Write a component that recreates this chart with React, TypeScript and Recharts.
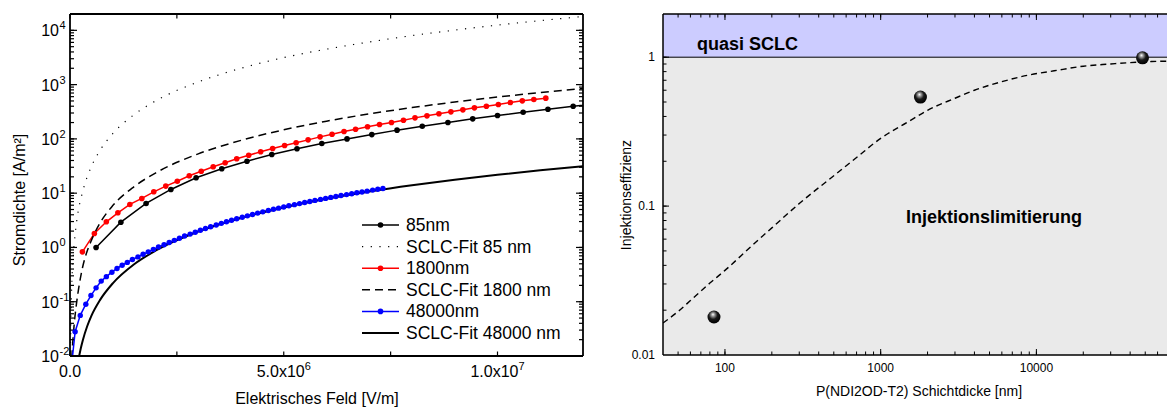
import React from "react";
import {
  ComposedChart,
  CartesianGrid,
  Line,
  Scatter,
  XAxis,
  YAxis,
  Legend,
  ReferenceArea,
  ReferenceLine,
} from "recharts";

const FONT = '"Liberation Sans", Arial, Helvetica, sans-serif';

// ---------- left panel: Stromdichte vs. Feld (x in 10^6 V/m) ----------
const feld85 = [0.61, 1.19, 1.78, 2.36, 2.95, 3.55, 4.14, 4.72, 5.31, 5.89, 6.48, 7.06, 7.65, 8.24, 8.84, 9.42, 10.0, 10.6, 11.18, 11.77, 12.36];
const strom85 = [1.0, 2.92, 6.46, 11.7, 19.2, 28.1, 38.8, 51.6, 65.7, 82.3, 100, 120, 145, 171, 200, 234, 270, 310, 352, 400, 448];

const feld1800 = [0.29, 0.57, 0.85, 1.12, 1.4, 1.68, 1.96, 2.24, 2.51, 2.79, 3.07, 3.35, 3.63, 3.9, 4.18, 4.46, 4.74, 5.02, 5.29, 5.57, 5.85, 6.13, 6.41, 6.68, 6.96, 7.24, 7.52, 7.8, 8.07, 8.35, 8.63, 8.91, 9.19, 9.46, 9.74, 10.02, 10.3, 10.58, 10.85, 11.13];
const strom1800 = [0.83, 1.81, 2.97, 4.35, 6.2, 8.0, 10.6, 13.5, 16.6, 20.9, 25.4, 30.6, 36.3, 43, 50, 57.8, 66.5, 75.5, 84.7, 96, 109, 122, 137, 151, 167, 184, 200, 221, 244, 266, 290, 315, 343, 373, 400, 430, 468, 502, 532, 563];

const feld48000 = [0.03, 0.12, 0.24, 0.37, 0.49, 0.61, 0.73, 0.85, 0.98, 1.1, 1.22, 1.34, 1.46, 1.59, 1.71, 1.83, 1.95, 2.07, 2.2, 2.32, 2.44, 2.56, 2.68, 2.81, 2.93, 3.05, 3.17, 3.29, 3.42, 3.54, 3.66, 3.78, 3.9, 4.03, 4.15, 4.27, 4.39, 4.51, 4.64, 4.76, 4.88, 5.0, 5.12, 5.25, 5.37, 5.49, 5.61, 5.73, 5.86, 5.98, 6.1, 6.22, 6.34, 6.47, 6.59, 6.71, 6.83, 6.95, 7.08, 7.2, 7.32];
const strom48000 = [0.006, 0.028, 0.056, 0.09, 0.13, 0.18, 0.24, 0.29, 0.35, 0.41, 0.47, 0.53, 0.6, 0.67, 0.75, 0.83, 0.92, 1.02, 1.12, 1.23, 1.35, 1.48, 1.62, 1.76, 1.91, 2.07, 2.24, 2.41, 2.59, 2.78, 2.97, 3.17, 3.38, 3.6, 3.82, 4.05, 4.29, 4.53, 4.78, 5.04, 5.3, 5.57, 5.85, 6.14, 6.43, 6.73, 7.04, 7.36, 7.68, 8.01, 8.35, 8.7, 9.05, 9.41, 9.78, 10.2, 10.5, 10.9, 11.4, 11.8, 12.2];

const fit85X = [0.01, 0.02, 0.04, 0.07, 0.1, 0.15, 0.2, 0.3, 0.5, 0.7, 1, 1.5, 2, 3, 4, 5, 6, 7, 8, 9, 10, 11, 12];
const fit85Y = [0.012, 0.048, 0.19, 0.6, 1.2, 2.8, 5, 11, 31, 61, 125, 280, 500, 1120, 2000, 3150, 4500, 6100, 8000, 10100, 12500, 15100, 18000];

const fit1800X = [0.04, 0.06, 0.1, 0.15, 0.2, 0.3, 0.4, 0.5, 0.7, 1, 1.5, 2, 3, 4, 5, 6, 7, 8, 9, 10, 11, 12];
const fit1800Y = [0.009, 0.016, 0.04, 0.09, 0.17, 0.45, 0.85, 1.35, 2.8, 5.9, 13.2, 23.5, 53, 94, 147, 212, 289, 377, 478, 590, 714, 850];

const fit48000X = [0.21, 0.25, 0.3, 0.4, 0.5, 0.7, 1, 1.5, 2, 3, 4, 5, 6, 7, 8, 9, 10, 11, 12];
const fit48000Y = [0.0096, 0.0136, 0.0196, 0.035, 0.055, 0.107, 0.218, 0.49, 0.87, 1.96, 3.49, 5.45, 7.85, 10.7, 14, 17.7, 21.8, 26.4, 31.4];

const xTicksL = [0, 2.5, 5, 7.5, 10];
const xMajorL = [0, 5, 10];
const xLabelL: Record<number, [string, string]> = { 0: ["0.0", ""], 5: ["5.0x10", "6"], 10: ["1.0x10", "7"] };
const yMajorL = [0.01, 0.1, 1, 10, 100, 1000, 10000];
const yExpL = ["-2", "-1", "0", "1", "2", "3", "4"];
const yMinorL = [0.01, 0.1, 1, 10, 100, 1000].flatMap((d) => [2, 3, 4, 5, 6, 7, 8, 9].map((k) => k * d));
const yAllL = [...yMajorL, ...yMinorL];

const legendNames = ["85nm", "SCLC-Fit 85 nm", "1800nm", "SCLC-Fit 1800 nm", "48000nm", "SCLC-Fit 48000 nm"];

// ---------- right panel: Injektionseffizienz vs. Schichtdicke ----------
const dickeNm = [85, 1800, 48000];
const effizienz = [0.018, 0.54, 0.99];

const fitDicke = [40, 50, 60, 80, 100, 150, 200, 300, 500, 700, 1000, 1500, 2000, 3000, 4000, 6000, 9000, 13000, 20000, 30000, 40000, 55000, 70000];
const fitEff = [0.0164, 0.0196, 0.0232, 0.0304, 0.037, 0.0546, 0.0714, 0.104, 0.16, 0.212, 0.285, 0.368, 0.44, 0.53, 0.6, 0.685, 0.76, 0.81, 0.87, 0.9, 0.92, 0.935, 0.94];

const xMajorR = [100, 1000, 10000];
const xMinorR = [50, 60, 70, 80, 90, ...[100, 1000].flatMap((d) => [2, 3, 4, 5, 6, 7, 8, 9].map((k) => k * d)), 20000, 30000, 40000, 50000, 60000];
const xAllR = [...xMajorR, ...xMinorR];
const yMajorR = [0.1, 1];
const yLabelR: Record<string, string> = { "0.1": "0.1", "1": "1" };
const yMinorR = [0.01, 0.1].flatMap((d) => [2, 3, 4, 5, 6, 7, 8, 9].map((k) => k * d));
const yAllR = [...yMajorR, ...yMinorR];

const pairs = (xs: number[], ys: number[]) => xs.map((x, i) => ({ x, y: ys[i] }));
const isOneOf = (list: number[], v: number) => list.some((m) => m === v || Math.abs(m - v) <= 1e-9 * Math.abs(m));

type Side = "left" | "right" | "top" | "bottom";

// labels only (outer axes)
function labelTick(side: Side, majors: number[], label: (v: number, c: number) => React.ReactNode) {
  return (props: any) => {
    const v = Number(props.payload.value);
    const c = side === "top" || side === "bottom" ? props.x : props.y;
    return <g>{isOneOf(majors, v) ? label(v, c) : null}</g>;
  };
}

// inward marks (mirrored axes): recharts draws the short line, majors get a longer one
function markTick(side: Side, edge: number, majors: number[], majorLen: number, sw: number) {
  return (props: any) => {
    const v = Number(props.payload.value);
    const horiz = side === "top" || side === "bottom";
    const c = horiz ? props.x : props.y;
    if (!isOneOf(majors, v)) return <g />;
    const dir = side === "left" || side === "top" ? 1 : -1;
    const d = horiz ? `M${c},${edge}L${c},${edge + dir * majorLen}` : `M${edge},${c}L${edge + dir * majorLen},${c}`;
    return <path d={d} stroke="#000" strokeWidth={sw} fill="none" />;
  };
}

const L = { left: 70, right: 583, top: 14, bottom: 356 };
const R = { left: 63, right: 568, top: 14, bottom: 355 };

const leftYLabel = (v: number, c: number) => {
  const i = yMajorL.indexOf(v);
  return (
    <g fontFamily={FONT} fill="#000">
      <text x={59} y={c + 6} fontSize={16} textAnchor="end">10</text>
      <text x={59.5} y={c - 1} fontSize={11} textAnchor="start">{yExpL[i]}</text>
    </g>
  );
};
const leftXLabel = (v: number, c: number) => {
  const [base, exp] = xLabelL[v];
  return (
    <text x={c} y={377} fontSize={16} fontFamily={FONT} textAnchor="middle" fill="#000">
      {base}
      {exp ? <tspan fontSize={11} dy={-7}>{exp}</tspan> : null}
    </text>
  );
};
const rightXLabel = (v: number, c: number) => (
  <text x={c} y={372} fontSize={12} fontFamily={FONT} textAnchor="middle" fill="#000">{String(v)}</text>
);
const rightYLabel = (v: number, c: number) => (
  <text x={55} y={c + 4} fontSize={12} fontFamily={FONT} textAnchor="end" fill="#000">{yLabelR[String(v)]}</text>
);

function LegendBox() {
  const styles = [
    { stroke: "#000", dash: undefined, dot: "#000", w: 1.5 },
    { stroke: "#000", dash: "1.2 7.5", dot: null, w: 1.2 },
    { stroke: "#ff0000", dash: undefined, dot: "#ff0000", w: 1.5 },
    { stroke: "#000", dash: "8 5", dot: null, w: 1.5 },
    { stroke: "#0000ff", dash: undefined, dot: "#0000ff", w: 1.5 },
    { stroke: "#000", dash: undefined, dot: null, w: 1.8 },
  ];
  return (
    <svg width={240} height={135} style={{ display: "block" }}>
      {legendNames.map((name, i) => {
        const y = 13 + 21.6 * i;
        const s = styles[i];
        return (
          <g key={name}>
            <line x1={7} x2={44} y1={y} y2={y} stroke={s.stroke} strokeWidth={s.w} strokeDasharray={s.dash} />
            {s.dot ? <circle cx={25.5} cy={y} r={2.8} fill={s.dot} /> : null}
            <text x={51} y={y + 6} fontSize={17.5} fontFamily={FONT} fill="#000">{name}</text>
          </g>
        );
      })}
    </svg>
  );
}

const Sphere = (p: any) => {
  const id = `sph${p.index ?? 0}`;
  return (
    <g>
      <defs>
        <radialGradient id={id} cx="45%" cy="38%" r="60%" fx="42%" fy="30%">
          <stop offset="0%" stopColor="#ffffff" />
          <stop offset="22%" stopColor="#9a9a9a" />
          <stop offset="55%" stopColor="#1a1a1a" />
          <stop offset="100%" stopColor="#000000" />
        </radialGradient>
      </defs>
      <circle cx={p.cx} cy={p.cy} r={6.5} fill={`url(#${id})`} />
    </g>
  );
};

function LeftPanel() {
  const axis = { stroke: "#000", strokeWidth: 1.8 };
  const tl = { stroke: "#000", strokeWidth: 1.2 };
  const xd: [number, number] = [0, 12];
  const yd: [number, number] = [0.01, 20000];
  return (
    <ComposedChart width={600} height={407} margin={{ top: 14, right: 17, bottom: 0, left: 10 }}>
      {/* label axes */}
      <XAxis dataKey="x" type="number" domain={xd} allowDataOverflow ticks={xTicksL} interval={0} height={51}
        axisLine={axis} tickLine={false} tick={labelTick("bottom", xMajorL, leftXLabel)} />
      <YAxis dataKey="y" type="number" scale="log" domain={yd} allowDataOverflow ticks={yAllL} interval={0} width={60}
        axisLine={axis} tickLine={false} tick={labelTick("left", yMajorL, leftYLabel)} />
      {/* inward tick marks on all four sides */}
      <XAxis xAxisId="bm" orientation="bottom" mirror dataKey="x" type="number" domain={xd} allowDataOverflow ticks={xTicksL} interval={0} height={10}
        axisLine={false} tickLine={tl} tickSize={4.5} tick={markTick("bottom", L.bottom, [], 0, 1.2)} />
      <XAxis xAxisId="tm" orientation="top" mirror dataKey="x" type="number" domain={xd} allowDataOverflow ticks={xTicksL} interval={0} height={10}
        axisLine={axis} tickLine={tl} tickSize={4.5} tick={markTick("top", L.top, [], 0, 1.2)} />
      <YAxis yAxisId="lm" orientation="left" mirror dataKey="y" type="number" scale="log" domain={yd} allowDataOverflow ticks={yAllL} interval={0} width={10}
        axisLine={false} tickLine={tl} tickSize={4} tick={markTick("left", L.left, yMajorL, 7, 1.2)} />
      <YAxis yAxisId="rm" orientation="right" mirror dataKey="y" type="number" scale="log" domain={yd} allowDataOverflow ticks={yAllL} interval={0} width={10}
        axisLine={axis} tickLine={tl} tickSize={4} tick={markTick("right", L.right, yMajorL, 7, 1.2)} />
      <Legend layout="vertical" align="center" verticalAlign="middle" content={() => <LegendBox />}
        wrapperStyle={{ left: 355, top: 212, width: 240, height: 135 }} />
      <Line data={pairs(feld85, strom85)} dataKey="y" type="linear" stroke="#000" strokeWidth={1.5}
        dot={{ r: 2.8, fill: "#000", stroke: "#000", strokeWidth: 0 }} isAnimationActive={false} />
      <Line data={pairs(fit85X, fit85Y)} dataKey="y" type="monotone" stroke="#000" strokeWidth={1.2} strokeDasharray="1.2 7.5"
        dot={false} isAnimationActive={false} />
      <Line data={pairs(feld1800, strom1800)} dataKey="y" type="linear" stroke="#ff0000" strokeWidth={1.5}
        dot={{ r: 2.8, fill: "#ff0000", stroke: "#ff0000", strokeWidth: 0 }} isAnimationActive={false} />
      <Line data={pairs(fit1800X, fit1800Y)} dataKey="y" type="monotone" stroke="#000" strokeWidth={1.5} strokeDasharray="8 5"
        dot={false} isAnimationActive={false} />
      <Line data={pairs(feld48000, strom48000)} dataKey="y" type="linear" stroke="#0000ff" strokeWidth={1.5}
        dot={{ r: 2.7, fill: "#0000ff", stroke: "#0000ff", strokeWidth: 0 }} isAnimationActive={false} />
      <Line data={pairs(fit48000X, fit48000Y)} dataKey="y" type="monotone" stroke="#000" strokeWidth={2}
        dot={false} isAnimationActive={false} />
    </ComposedChart>
  );
}

function RightPanel() {
  const axis = { stroke: "#000", strokeWidth: 1.5 };
  const tl = { stroke: "#000", strokeWidth: 1 };
  const xd: [number, number] = [40, 70000];
  const yd: [number, number] = [0.01, 1.95];
  return (
    <ComposedChart width={568} height={407} margin={{ top: 14, right: 0, bottom: 0, left: 3 }}>
      <CartesianGrid horizontal={false} vertical={false} fill="#eaeaea" fillOpacity={1} stroke="none" />
      <ReferenceArea y1={1} y2={1.95} fill="#ccccff" fillOpacity={1} stroke="none" />
      <ReferenceLine y={1} stroke="#000" strokeWidth={1} />
      <XAxis dataKey="x" type="number" scale="log" domain={xd} allowDataOverflow ticks={xAllR} interval={0} height={52}
        axisLine={axis} tickLine={false} tick={labelTick("bottom", xMajorR, rightXLabel)} />
      <YAxis dataKey="y" type="number" scale="log" domain={yd} allowDataOverflow ticks={yAllR} interval={0} width={60}
        axisLine={axis} tickLine={false} tick={labelTick("left", yMajorR, rightYLabel)} />
      <XAxis xAxisId="bm" orientation="bottom" mirror dataKey="x" type="number" scale="log" domain={xd} allowDataOverflow ticks={xAllR} interval={0} height={10}
        axisLine={false} tickLine={tl} tickSize={3.5} tick={markTick("bottom", R.bottom, xMajorR, 6, 1)} />
      <XAxis xAxisId="tm" orientation="top" mirror dataKey="x" type="number" scale="log" domain={xd} allowDataOverflow ticks={xAllR} interval={0} height={10}
        axisLine={axis} tickLine={tl} tickSize={3.5} tick={markTick("top", R.top, xMajorR, 6, 1)} />
      <YAxis yAxisId="lm" orientation="left" mirror dataKey="y" type="number" scale="log" domain={yd} allowDataOverflow ticks={yAllR} interval={0} width={10}
        axisLine={false} tickLine={tl} tickSize={3.5} tick={markTick("left", R.left, yMajorR, 6, 1)} />
      <Line data={pairs(fitDicke, fitEff)} dataKey="y" type="monotone" stroke="#000" strokeWidth={1.4} strokeDasharray="6 4"
        dot={false} isAnimationActive={false} />
      <Scatter data={pairs(dickeNm, effizienz)} dataKey="y" shape={Sphere} isAnimationActive={false} />
    </ComposedChart>
  );
}

export default function App() {
  return (
    <div style={{ position: "absolute", left: 0, top: 0, width: 1167, height: 407, overflow: "hidden", background: "#fff", fontFamily: FONT }}>
      <div style={{ position: "absolute", left: 0, top: 0 }}>
        <LeftPanel />
      </div>
      <div style={{ position: "absolute", left: 600, top: 0 }}>
        <RightPanel />
      </div>
      <svg width={1167} height={407} style={{ position: "absolute", left: 0, top: 0, pointerEvents: "none" }}>
        <g fontFamily={FONT} fill="#000">
          <text transform="translate(25,200) rotate(-90)" fontSize={16} textAnchor="middle">Stromdichte [A/m²]</text>
          <text x={317} y={404} fontSize={16} textAnchor="middle">Elektrisches Feld [V/m]</text>
          <text transform="translate(631,195) rotate(-90)" fontSize={14} textAnchor="middle">Injektionseffizienz</text>
          <text x={919} y={396} fontSize={14} textAnchor="middle">P(NDI2OD-T2) Schichtdicke [nm]</text>
          <text x={697} y={50} fontSize={18} fontWeight="bold">quasi SCLC</text>
          <text x={906} y={223} fontSize={18} fontWeight="bold">Injektionslimitierung</text>
          <text x={655} y={359} fontSize={12} textAnchor="end">0.01</text>
        </g>
      </svg>
    </div>
  );
}
